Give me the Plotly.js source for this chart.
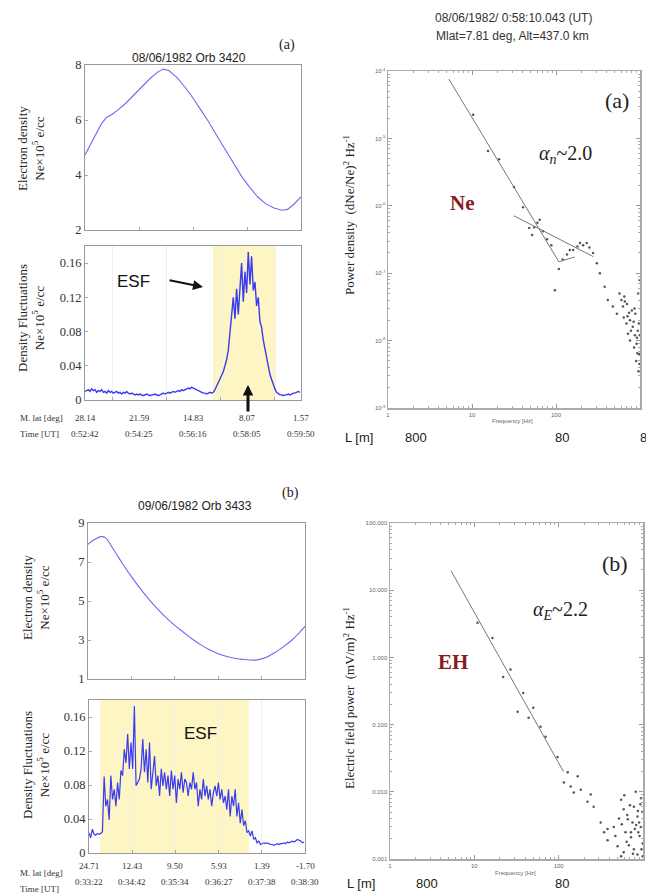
<!DOCTYPE html>
<html><head><meta charset="utf-8">
<script src="https://cdn.plot.ly/plotly-3.0.1.min.js"></script>
<style>html,body{margin:0;padding:0;background:#fff}#chart{width:646px;height:896px}</style>
</head><body><div id="chart"></div>
<script>
// ---------- DATA ----------
// Orbit 3420 (a): electron density vs. position along the tick scale (tick index)
const densAX = [0,0.1,0.2,0.3,0.4,0.5,0.6,0.75,0.9,1.05,1.2,1.35,1.45,1.55,1.7,1.85,2.0,2.15,2.3,2.45,2.6,2.75,2.9,3.05,3.2,3.35,3.5,3.65,3.75,3.85,3.95,4.0];
const densAY = [4.73,5.1,5.5,5.85,6.1,6.2,6.35,6.6,6.9,7.2,7.5,7.75,7.85,7.8,7.55,7.2,6.8,6.35,5.9,5.4,4.9,4.4,3.95,3.55,3.2,2.95,2.8,2.72,2.75,2.9,3.1,3.2];
// Orbit 3420 (a): density fluctuations, evenly spaced samples
const flucAStart = 0, flucAEnd = 3.98;
const flucAY = [0.010,0.011,0.012,0.010,0.013,0.011,0.012,0.009,0.011,0.010,
0.012,0.009,0.010,0.008,0.011,0.009,0.010,0.008,0.009,0.010,
0.008,0.009,0.007,0.009,0.008,0.010,0.008,0.007,0.008,0.007,
0.006,0.007,0.006,0.007,0.006,0.005,0.006,0.007,0.006,0.005,
0.006,0.006,0.007,0.006,0.005,0.006,0.007,0.008,0.007,0.008,
0.009,0.008,0.009,0.010,0.009,0.010,0.011,0.010,0.012,0.011,
0.012,0.013,0.014,0.013,0.015,0.014,0.013,0.012,0.011,0.010,
0.009,0.008,0.008,0.007,0.008,0.009,0.008,0.009,
0.012,0.016,0.020,0.024,0.028,0.033,0.040,0.047,0.058,0.078,
0.105,0.120,0.095,0.130,0.100,0.138,0.160,0.115,0.150,0.125,
0.173,0.135,0.168,0.128,0.138,0.110,0.120,0.092,0.085,0.070,
0.060,0.048,0.038,0.030,0.024,0.018,0.013,0.009,0.007,0.006,
0.006,0.005,0.006,0.006,0.007,0.006,0.007,0.008,0.008,0.009,0.010,0.009];
const ticksA_lat = ['28.14','21.59','14.83','8.07','1.57'];
const ticksA_time = ['0:52:42','0:54:25','0:56:16','0:58:05','0:59:50'];
const esfA = [2.37, 3.54];

// Orbit 3433 (b)
const densBX = [0,0.15,0.3,0.4,0.6,0.8,1.0,1.2,1.4,1.6,1.8,2.0,2.2,2.4,2.6,2.8,3.0,3.2,3.4,3.6,3.8,3.9,4.1,4.3,4.5,4.7,4.9,5.0];
const densBY = [7.9,8.15,8.3,8.25,7.6,6.9,6.25,5.65,5.1,4.6,4.15,3.75,3.4,3.05,2.75,2.5,2.3,2.15,2.05,2.0,1.97,1.98,2.1,2.35,2.65,3.0,3.45,3.7];
const flucBStart = 0, flucBEnd = 4.98;
const flucBY = [0.024,0.018,0.028,0.022,0.021,0.023,0.022,0.023,0.025,0.090,
0.055,0.063,0.039,0.091,0.063,0.075,0.055,0.083,0.063,0.097,
0.091,0.122,0.106,0.140,0.099,0.130,0.099,0.173,0.079,0.083,
0.087,0.099,0.134,0.095,0.122,0.083,0.130,0.075,0.095,0.114,
0.079,0.091,0.067,0.099,0.079,0.095,0.075,0.091,0.067,0.097,
0.075,0.091,0.059,0.087,0.075,0.095,0.071,0.087,0.083,0.067,
0.083,0.075,0.095,0.075,0.083,0.055,0.075,0.063,0.087,0.067,
0.079,0.063,0.075,0.055,0.071,0.079,0.067,0.083,0.063,0.075,
0.059,0.067,0.051,0.075,0.043,0.067,0.055,0.075,0.043,0.059,
0.035,0.051,0.032,0.038,0.024,0.026,0.020,0.026,0.016,0.018,
0.012,0.014,0.010,0.011,0.012,0.011,0.012,0.011,0.010,0.010,
0.009,0.010,0.011,0.010,0.011,0.011,0.012,0.011,0.013,0.012,
0.013,0.014,0.013,0.015,0.016,0.015,0.014,0.012,0.013];
const ticksB_lat = ['24.71','12.43','9.50','5.93','1.39','-1.70'];
const ticksB_time = ['0:33:22','0:34:42','0:35:34','0:36:27','0:37:38','0:38:30'];
const esfB = [0.26, 3.70];

// Spectrum (a) Ne
const specAF = [10.3,15.5,21,31.6,40.5,52,64,55,48,108,97,146,193,232,276,306,333,380,414,475,530,626,760,820,920,760,980,700,650,880,950,990,850,900,960,720,800,600,570,120,135,160,180,210,250,88,78,70,60,
  640,690,740,780,840,870,910,940,970,995,660,710,860,930,985];
const specAP = [2.24e-5,6.5e-6,4.9e-6,1.9e-6,9.5e-7,3.7e-7,6.2e-7,4.8e-7,4.7e-7,1.15e-7,5.6e-8,2.2e-7,2.8e-7,2.8e-7,2.0e-7,1.4e-7,1.0e-7,6.3e-8,4.0e-8,3.2e-8,2.5e-8,3.2e-8,2.0e-8,1.6e-8,1.1e-8,1.0e-8,6.3e-9,3.5e-8,4.5e-8,2.5e-8,5.0e-8,7.9e-8,7.9e-9,5.0e-9,3.5e-9,1.26e-8,2.8e-8,4.0e-8,5.0e-8,1.6e-7,1.9e-7,2.2e-7,2.5e-7,2.6e-7,2.4e-7,2.6e-7,3.2e-7,4.2e-7,5.6e-7,
  2.2e-8,1.8e-8,2.6e-8,1.4e-8,1.9e-8,1.2e-8,9.0e-9,1.4e-8,1.8e-8,1.2e-8,3.8e-8,2.3e-8,3.0e-8,6.5e-9,4.5e-9];
const fitA1F = [5.3,108,168], fitA1P = [7.6e-5,1.48e-7,1.74e-7];
const fitA2F = [31.6,278], fitA2P = [7.1e-7,1.76e-7];

// Spectrum (b) EH
const specBF = [10.9,16.4,22,26.8,38,32.6,50,61,70,44,97,128,168,139,183,240,115,151,220,260,315,380,550,590,660,780,860,940,720,345,380,450,500,590,720,780,900,990,550,650,860,620,700,820,950,680,520,600,750,880,980,
  830,910,960,870,760,640,560,470,930,990,800];
const specBP = [3.27,1.95,0.51,0.66,0.295,0.155,0.178,0.093,0.066,0.126,0.033,0.0195,0.017,0.012,0.0107,0.0091,0.0138,0.0098,0.0071,0.006,0.0035,0.0028,0.0076,0.0055,0.0039,0.006,0.0043,0.003,0.0025,0.0025,0.0019,0.003,0.00155,0.00126,0.0021,0.0014,0.0035,0.0017,0.0011,0.0045,0.00117,0.0025,0.0063,0.01,0.008,0.0016,0.004,0.0089,0.0035,0.0025,0.005,
  0.0032,0.0022,0.0014,0.0052,0.0012,0.0018,0.0033,0.0022,0.0065,0.0011,0.0028];
const fitBF = [5.3,114], fitBP = [19.4,0.02];

// ---------- BUILD ----------
const W = 646, H = 896;
const px = v => v / W, py = v => 1 - v / H;
const samples = (s, e, n) => Array.from({length: n}, (_, i) => s + (e - s) * i / (n - 1));

const serif = 'Liberation Serif, Times New Roman, serif';
const sans = 'Liberation Sans, Arial, sans-serif';
const blueLight = '#6b6bf2', blue = '#3a3af0';

const traces = [
  {x: densAX, y: densAY, xaxis: 'x', yaxis: 'y', mode: 'lines', line: {color: blueLight, width: 1.1}, type: 'scatter'},
  {x: samples(flucAStart, flucAEnd, flucAY.length), y: flucAY, xaxis: 'x2', yaxis: 'y2', mode: 'lines', line: {color: blue, width: 1.4}, type: 'scatter'},
  {x: densBX, y: densBY, xaxis: 'x3', yaxis: 'y3', mode: 'lines', line: {color: blueLight, width: 1.1, shape: 'spline'}, type: 'scatter'},
  {x: samples(flucBStart, flucBEnd, flucBY.length), y: flucBY, xaxis: 'x4', yaxis: 'y4', mode: 'lines', line: {color: blue, width: 1.2}, type: 'scatter'},
  {x: specAF, y: specAP, xaxis: 'x5', yaxis: 'y5', mode: 'markers', marker: {color: '#555', size: 2.5}, type: 'scatter'},
  {x: fitA1F, y: fitA1P, xaxis: 'x5', yaxis: 'y5', mode: 'lines', line: {color: '#777', width: 1}, type: 'scatter'},
  {x: fitA2F, y: fitA2P, xaxis: 'x5', yaxis: 'y5', mode: 'lines', line: {color: '#777', width: 1}, type: 'scatter'},
  {x: specBF, y: specBP, xaxis: 'x6', yaxis: 'y6', mode: 'markers', marker: {color: '#555', size: 2.5}, type: 'scatter'},
  {x: fitBF, y: fitBP, xaxis: 'x6', yaxis: 'y6', mode: 'lines', line: {color: '#777', width: 1}, type: 'scatter'}
];

const leftAx = (dom, extra) => Object.assign({
  domain: dom, showline: true, linecolor: '#999', linewidth: 1, mirror: true,
  ticks: 'inside', ticklen: 3, tickcolor: '#aaa', showgrid: true, gridcolor: '#efefef',
  zeroline: false, tickfont: {family: serif, size: 12.5, color: '#333'}
}, extra);
const rightAx = (dom, extra) => Object.assign({
  domain: dom, type: 'log', showline: true, linecolor: '#aaa', linewidth: 1.5, mirror: 'ticks',
  ticks: 'inside', ticklen: 4, tickcolor: '#999', showgrid: false, zeroline: false,
  tickfont: {family: sans, size: 6, color: '#666'},
  minor: {ticks: 'inside', ticklen: 2, tickcolor: '#aaa', dtick: 'D1'}
}, extra);

const layout = {
  width: W, height: H, margin: {l: 0, r: 0, t: 0, b: 0}, showlegend: false,
  paper_bgcolor: '#fff', plot_bgcolor: 'rgba(0,0,0,0)',
  xaxis: leftAx([px(85), px(301)], {range: [0, 4], tickvals: [0, 1, 2, 3, 4], showticklabels: false, showgrid: false, anchor: 'y'}),
  yaxis: leftAx([py(230), py(65)], {range: [2, 8], tickvals: [2, 4, 6, 8], showgrid: false, anchor: 'x'}),
  xaxis2: leftAx([px(85), px(301)], {range: [0, 4], tickvals: [0.5, 1.5, 2.5, 3.5], showticklabels: false, anchor: 'y2'}),
  yaxis2: leftAx([py(400), py(246)], {range: [0, 0.18], tickvals: [0, 0.04, 0.08, 0.12, 0.16], showgrid: false, anchor: 'x2'}),
  xaxis3: leftAx([px(88), px(305)], {range: [0, 5], tickvals: [0, 1, 2, 3, 4, 5], showticklabels: false, showgrid: false, anchor: 'y3'}),
  yaxis3: leftAx([py(679), py(523)], {range: [1, 9], tickvals: [1, 3, 5, 7, 9], showgrid: false, anchor: 'x3'}),
  xaxis4: leftAx([px(89), px(305)], {range: [0, 5], tickvals: [1, 2, 3, 4], showticklabels: false, anchor: 'y4'}),
  yaxis4: leftAx([py(853), py(700)], {range: [0, 0.18], tickvals: [0, 0.04, 0.08, 0.12, 0.16], showgrid: false, anchor: 'x4'}),
  xaxis5: rightAx([px(388), px(640)], {range: [0, 3], tickvals: [1, 10, 100, 1000], ticktext: ['1', '10', '100', '1000'], anchor: 'y5'}),
  yaxis5: rightAx([py(408), py(71)], {range: [-9, -4], tickvals: [1e-9, 1e-8, 1e-7, 1e-6, 1e-5, 1e-4],
    ticktext: ['10<sup>-9</sup>', '10<sup>-8</sup>', '10<sup>-7</sup>', '10<sup>-6</sup>', '10<sup>-5</sup>', '10<sup>-4</sup>'], anchor: 'x5'}),
  xaxis6: rightAx([px(390), px(643)], {range: [0, 3], tickvals: [1, 10, 100, 1000], ticktext: ['1', '10', '100', '1000'], anchor: 'y6'}),
  yaxis6: rightAx([py(859), py(523)], {range: [-3, 2], tickvals: [0.001, 0.01, 0.1, 1, 10, 100],
    ticktext: ['0.001', '0.010', '0.100', '1.000', '10.000', '100.000'], anchor: 'x6'}),
  shapes: [
    {type: 'rect', xref: 'x2', yref: 'y2 domain', x0: esfA[0], x1: esfA[1], y0: 0, y1: 1, fillcolor: '#fdf6c4', line: {width: 0}, layer: 'below'},
    {type: 'rect', xref: 'x4', yref: 'y4 domain', x0: esfB[0], x1: esfB[1], y0: 0, y1: 1, fillcolor: '#fdf6c4', line: {width: 0}, layer: 'below'}
  ],
  annotations: []
};

const A = layout.annotations;
const txt = (x, y, text, size, family, extra) => A.push(Object.assign({
  xref: 'paper', yref: 'paper', x: px(x), y: py(y), text: text, showarrow: false,
  font: {family: family, size: size, color: '#222'}, xanchor: 'center', yanchor: 'middle'
}, extra || {}));

// titles
txt(189, 58, '08/06/1982 Orb 3420', 12, sans);
txt(287, 45, '(a)', 14, serif);
txt(195, 506, '09/06/1982 Orb 3433', 12, sans);
txt(290, 493, '(b)', 14, serif);
txt(513, 18, '08/06/1982/ 0:58:10.043 (UT)', 12, sans, {font: {family: sans, size: 12, color: '#333'}});
txt(512, 36, 'Mlat=7.81 deg, Alt=437.0 km', 12, sans, {font: {family: sans, size: 12, color: '#333'}});

// left y titles
txt(31, 149, 'Electron density<br>Ne×10<sup>5</sup> e/cc', 13, serif, {textangle: -90});
txt(31, 318, 'Density Fluctuations<br>Ne×10<sup>5</sup> e/cc', 13, serif, {textangle: -90});
txt(36, 598, 'Electron density<br>Ne×10<sup>5</sup> e/cc', 13, serif, {textangle: -90});
txt(36, 765, 'Density Fluctuations<br>Ne×10<sup>5</sup> e/cc', 13, serif, {textangle: -90});

// tick-row labels
const rowFont = {family: serif, size: 9, color: '#333'};
txt(18, 418, 'M. lat [deg]', 9, serif, {xanchor: 'left', font: rowFont});
txt(18, 434, 'Time [UT]', 9, serif, {xanchor: 'left', font: rowFont});
ticksA_lat.forEach((t, i) => A.push({xref: 'x2', yref: 'paper', x: i, y: py(418), text: t, showarrow: false, font: rowFont}));
ticksA_time.forEach((t, i) => A.push({xref: 'x2', yref: 'paper', x: i, y: py(434), text: t, showarrow: false, font: rowFont}));
txt(18, 873, 'M. lat [deg]', 9, serif, {xanchor: 'left', font: rowFont});
txt(18, 889, 'Time [UT]', 9, serif, {xanchor: 'left', font: rowFont});
ticksB_lat.forEach((t, i) => A.push({xref: 'x4', yref: 'paper', x: i, y: py(873), text: t, showarrow: false, font: rowFont}));
ticksB_time.forEach((t, i) => A.push({xref: 'x4', yref: 'paper', x: i, y: py(889), text: t, showarrow: false, font: rowFont}));

// ESF labels and arrows
txt(133, 282, 'ESF', 17, sans, {font: {family: sans, size: 17, color: '#111'}});
A.push({xref: 'paper', yref: 'paper', x: px(203), y: py(287), ax: -35, ay: -7, text: '', showarrow: true, arrowhead: 2, arrowsize: 1, arrowwidth: 2, arrowcolor: '#111'});
A.push({xref: 'paper', yref: 'paper', x: px(248), y: py(385), ax: 0, ay: 28, text: '', showarrow: true, arrowhead: 2, arrowsize: 0.7, arrowwidth: 3, arrowcolor: '#111'});
txt(200, 733, 'ESF', 17, sans, {font: {family: sans, size: 17, color: '#111'}});

// right panel texts
txt(617, 100, '(a)', 22, serif);
txt(565, 155, '<i>α<sub>n</sub></i>~2.0', 20, serif);
txt(462, 203, '<b>Ne</b>', 21, serif, {font: {family: serif, size: 21, color: '#8b1a1a'}});
txt(615, 563, '(b)', 22, serif);
txt(560, 610, '<i>α<sub>E</sub></i>~2.2', 20, serif);
txt(453, 662, '<b>EH</b>', 21, serif, {font: {family: serif, size: 21, color: '#8b1a1a'}});

txt(349, 215, 'Power density  (dNe/Ne)<sup>2</sup> Hz<sup>-1</sup>', 13, serif, {textangle: -90});
txt(349, 698, 'Electric field power  (mV/m)<sup>2</sup> Hz<sup>-1</sup>', 13, serif, {textangle: -90});
txt(512, 421, 'Frequency [Hz]', 6, sans, {font: {family: sans, size: 6, color: '#666'}});
txt(515, 873, 'Frequency [Hz]', 6, sans, {font: {family: sans, size: 6, color: '#666'}});

txt(359, 437, 'L [m]', 13, sans);
txt(416, 437, '800', 13, sans);
txt(562, 437, '80', 13, sans);
txt(643, 437, '8', 13, sans);
txt(361, 883, 'L [m]', 13, sans);
txt(427, 883, '800', 13, sans);
txt(562, 883, '80', 13, sans);

Plotly.newPlot('chart', traces, layout, {staticPlot: true, displayModeBar: false});
</script></body></html>
